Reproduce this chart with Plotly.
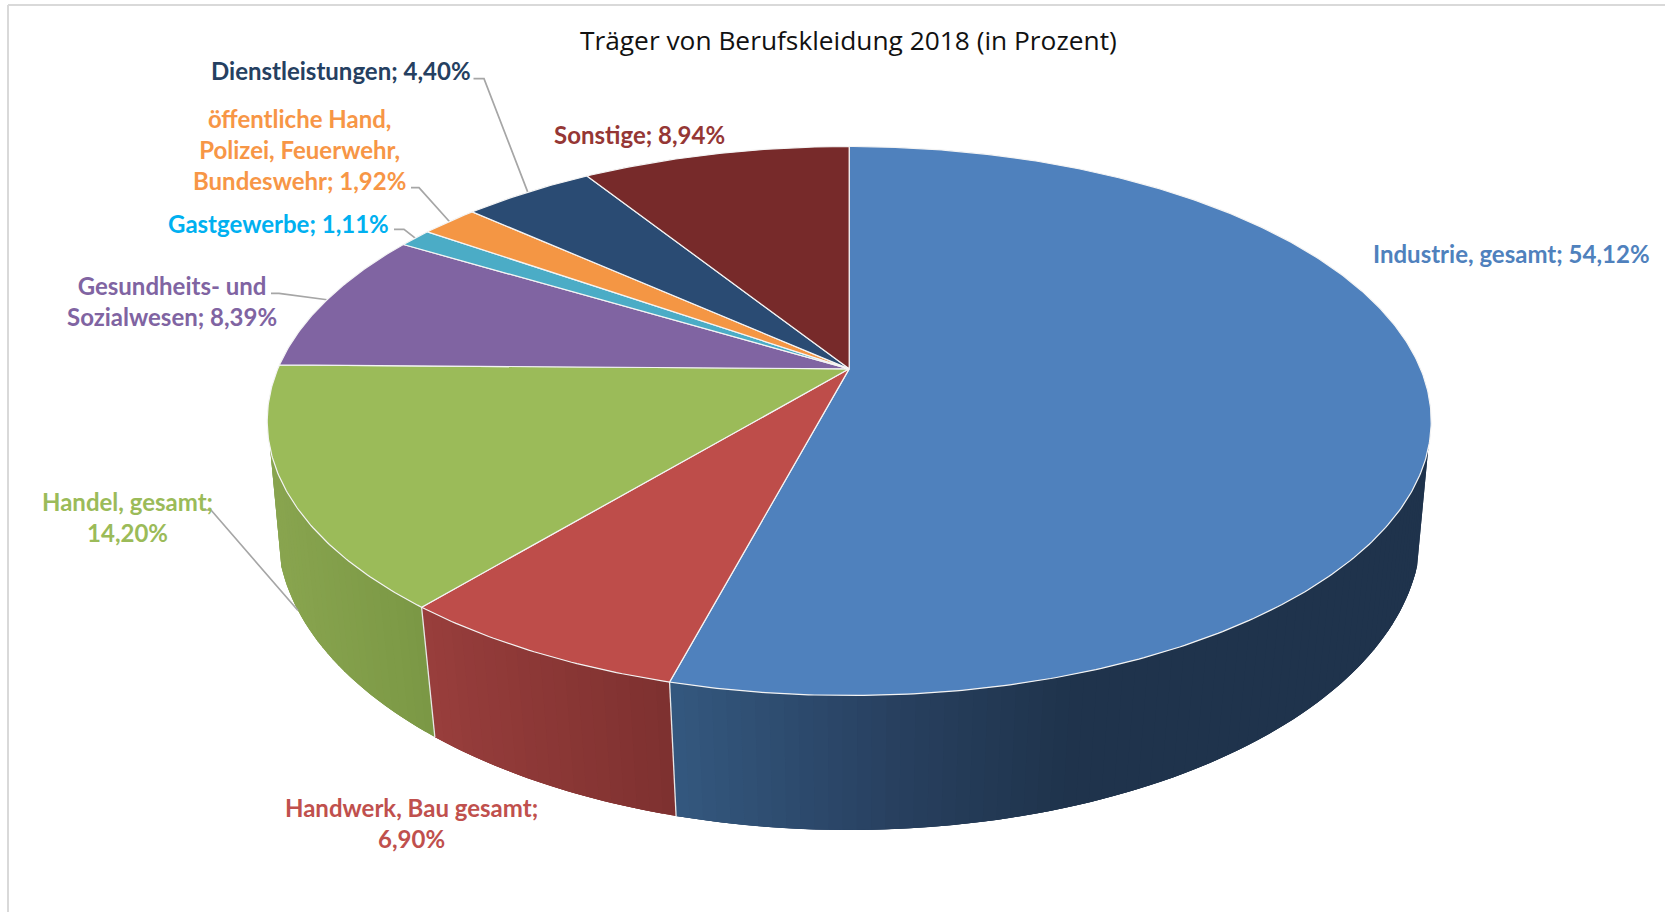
import numpy as np
import plotly.graph_objects as go

# ---- data ----
categories = ["Industrie, gesamt", "Handwerk, Bau gesamt", "Handel, gesamt",
              "Gesundheits- und Sozialwesen", "Gastgewerbe",
              "öffentliche Hand, Polizei, Feuerwehr, Bundeswehr",
              "Dienstleistungen", "Sonstige"]
values = [54.12, 6.90, 14.20, 8.39, 1.11, 1.92, 4.40, 8.94]
label_lines = [["Industrie, gesamt; {v}"], ["Handwerk, Bau gesamt;", "{v}"],
               ["Handel, gesamt;", "{v}"], ["Gesundheits- und", "Sozialwesen; {v}"],
               ["Gastgewerbe; {v}"], ["öffentliche Hand,", "Polizei, Feuerwehr,", "Bundeswehr; {v}"],
               ["Dienstleistungen; {v}"], ["Sonstige; {v}"]]
title_text = "Träger von Berufskleidung 2018 (in Prozent)"

# ---- styles ----
top_colors = ["#4F81BD", "#BE4D4A", "#9BBB59", "#8064A2", "#4BACC6", "#F49644", "#2A4B73", "#772A2A"]
label_colors = ["#4F81BD", "#C0504D", "#9BBB59", "#8064A2", "#00B0F0", "#F79646", "#254061", "#953735"]
# side gradients (x position on screen, colour)
side_stops = {
    0: [(675, (52, 88, 127)), (900, (40, 64, 95)), (1074, (31, 51, 76)), (1440, (31, 51, 76))],
    1: [(434, (152, 62, 60)), (675, (126, 49, 48))],
    2: [(265, (138, 166, 80)), (434, (123, 152, 69))],
}
label_pos = [(1511.6, 253), (411.6, 823), (127.6, 517), (171.5, 301), (278.5, 223.5),
             (299.6, 149), (340.6, 70), (639, 134)]
# leader elbows: label end, knee, rim ("top"/"bottom")
leaders = {1: None, 2: ((202, 510), (211, 510), "bottom"), 3: ((271, 293.3), (279, 293.3), "top"),
           4: ((394, 229.3), (404, 229.3), "top"), 5: ((411, 187.7), (419, 187.7), "top"),
           6: ((473.5, 78.7), (484, 78.7), "top")}
FONT = "Lato"
W, H = 1665, 912
CX = 849.2
TOP = dict(yc=421.0, ry=274.5, rx=582.0, k=0.19)
BOT = dict(yc=530.5, ry=299.5, rx=572.0, k=0.17)
SIDE_Y = 0.2846  # side visible for depth coordinate above this


def project(deg, g):
    p = np.radians(np.asarray(deg, dtype=float))
    x, y = np.sin(p), -np.cos(p)
    d = 1 - g["k"] * y
    s = (y - g["k"]) / d
    c = x * np.sqrt(1 - g["k"] ** 2) / d
    return CX + g["rx"] * c, g["yc"] + g["ry"] * s


def centre(g):
    return CX, g["yc"] - g["ry"] * g["k"]


total = sum(values)
edges = np.concatenate([[0], np.cumsum(values)]) / total * 360
vis_a = np.degrees(np.arccos(-SIDE_Y))
vis_b = 360 - vis_a

fig = go.Figure()
common = dict(mode="lines", hoverinfo="skip", showlegend=False)


def band(a, b):
    seg = np.linspace(a, b, max(int((b - a) / 0.5), 2) + 1)
    tx, ty = project(seg, TOP)
    bx, by = project(seg, BOT)
    return np.r_[tx, bx[::-1], tx[0]], np.r_[ty, by[::-1], ty[0]], (tx.mean() + bx.mean()) / 2


# sides: a base shape, then overlapping gradient bands so no seam shows
for i, stops in side_stops.items():
    a, b = max(edges[i], vis_a), min(edges[i + 1], vis_b)
    xs_stop = [s[0] for s in stops]

    def colour(xm):
        return "rgb(%d,%d,%d)" % tuple(np.interp(xm, xs_stop, [s[1][c] for s in stops]) for c in range(3))

    bx0, by0, xm0 = band(a, b)
    fig.add_trace(go.Scatter(x=bx0, y=by0, fill="toself", fillcolor=colour(xm0),
                             line=dict(width=0), **common))
    n = int(np.ceil((b - a) / 1.2))
    grid = np.linspace(a, b, n + 1)
    # each band reaches over its neighbour
    for j in range(n):
        u = grid[j]
        v = grid[min(j + 2, n)]
        bxs, bys, _ = band(u, v)
        xm = np.mean(band(grid[j], grid[j + 1])[2])
        fig.add_trace(go.Scatter(x=bxs, y=bys, fill="toself", fillcolor=colour(xm),
                                 line=dict(width=0), **common))

# separators on the side
for e in edges[1:3]:
    tx, ty = project(e, TOP)
    bx, by = project(e, BOT)
    fig.add_trace(go.Scatter(x=[tx, bx], y=[ty, by], line=dict(color="#E8E8E8", width=1.3), **common))

# leader lines, below the top face
for i, (p0, p1, rim) in ((i, l) for i, l in leaders.items() if l):
    mid = (edges[i] + edges[i + 1]) / 2
    ex, ey = project(mid, TOP if rim == "top" else BOT)
    fig.add_trace(go.Scatter(x=[p0[0], p1[0], ex], y=[p0[1], p1[1], ey],
                             line=dict(color="#A6A6A6", width=1.7), **common))

# top face
cx0, cy0 = centre(TOP)
for i in range(len(values)):
    n = max(int((edges[i + 1] - edges[i]) / 0.5), 4)
    ax, ay = project(np.linspace(edges[i], edges[i + 1], n), TOP)
    fig.add_trace(go.Scatter(x=np.r_[cx0, ax, cx0], y=np.r_[cy0, ay, cy0], fill="toself",
                             fillcolor=top_colors[i], line=dict(color="#F4F4F4", width=1.2), **common))

# labels
for i, lines in enumerate(label_lines):
    txt = "<br>".join(lines).format(v=f"{values[i]:.2f}".replace(".", ",") + "%")
    fig.add_annotation(x=label_pos[i][0], y=label_pos[i][1], text=txt, showarrow=False,
                       xanchor="center", yanchor="middle", align="center",
                       font=dict(family=FONT, size=24, color=label_colors[i], weight="bold"))
fig.add_annotation(x=848, y=39.5, text=title_text, showarrow=False, xanchor="center", yanchor="middle",
                   font=dict(family="Open Sans", size=26.3, color="#111111"))

# chart frame
frame = dict(color="#D9D9D9", width=2)
fig.add_shape(type="line", x0=8, x1=8, y0=5, y1=H, line=frame)
fig.add_shape(type="line", x0=8, x1=W, y0=5, y1=5, line=frame)

fig.update_layout(width=W, height=H, margin=dict(l=0, r=0, t=0, b=0),
                  paper_bgcolor="white", plot_bgcolor="white", showlegend=False,
                  xaxis=dict(range=[0, W], visible=False, fixedrange=True),
                  yaxis=dict(range=[H, 0], visible=False, fixedrange=True))
fig.write_html("out.html", config=dict(displayModeBar=False),
               post_script="document.body.style.margin='0';document.body.style.overflow='hidden';")
